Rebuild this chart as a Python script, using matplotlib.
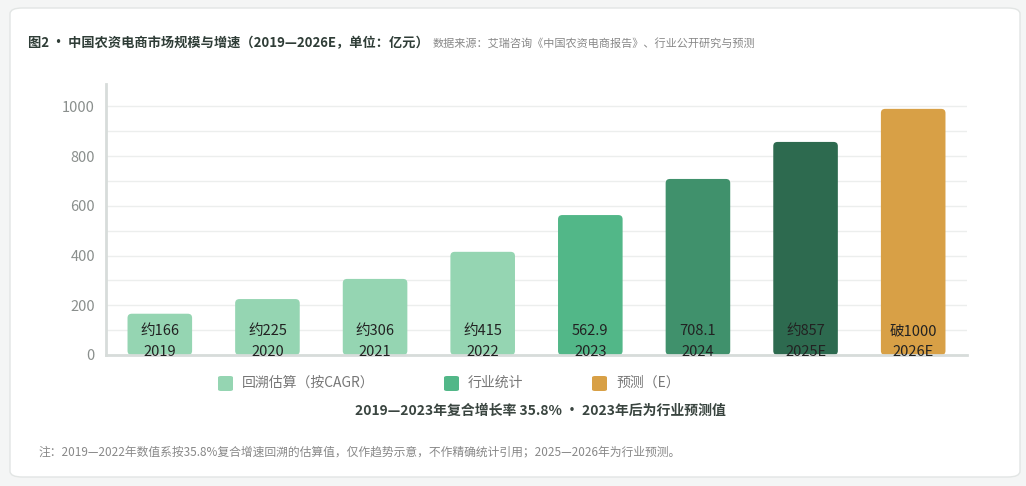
import matplotlib.pyplot as plt
from matplotlib.patches import FancyBboxPatch
import numpy as np

plt.rcParams['font.family'] = ['Noto Sans CJK SC', 'DejaVu Sans']

years = ["2019", "2020", "2021", "2022", "2023", "2024", "2025E", "2026E"]
values = [166, 225, 306, 415, 562.9, 708.1, 857, 990]
value_labels = ["约166", "约225", "约306", "约415", "562.9", "708.1", "约857", "破1000"]
bar_colors = ["#95d5b2", "#95d5b2", "#95d5b2", "#95d5b2", "#52b788", "#40916c", "#2d6a4f", "#d8a046"]
legend_names = ["回溯估算（按CAGR）", "行业统计", "预测（E）"]
legend_colors = ["#95d5b2", "#52b788", "#d8a046"]

title = "图2 • 中国农资电商市场规模与增速（2019—2026E，单位：亿元）"
source = "数据来源：艾瑞咨询《中国农资电商报告》、行业公开研究与预测"
subtitle = "2019—2023年复合增长率 35.8% • 2023年后为行业预测值"
note = "注：2019—2022年数值系按35.8%复合增速回溯的估算值，仅作趋势示意，不作精确统计引用；2025—2026年为行业预测。"

W, H = 1026, 486
fig = plt.figure(figsize=(W / 100, H / 100), dpi=100, facecolor="#f4f5f5")

# card behind everything
card = FancyBboxPatch((10 / W, 9 / H), 1010 / W, 469 / H,
                      boxstyle="round,pad=0,rounding_size=0.012",
                      transform=fig.transFigure, facecolor="white",
                      edgecolor="#e2e5e4", linewidth=1, zorder=-5)
fig.patches.append(card)

ax = fig.add_axes([106 / W, 1 - 355 / H, (967 - 106) / W, (355 - 84) / H])
ax.set_zorder(2)
ax.set_facecolor("none")
x = np.arange(len(years))
bars = ax.bar(x, values, width=0.6, color=bar_colors, zorder=2)

# swap square bars for rounded ones
for b, c in zip(bars, bar_colors):
    b.set_visible(False)
    rb = FancyBboxPatch((b.get_x(), b.get_y()), b.get_width(), b.get_height(),
                        boxstyle="round,pad=0,rounding_size=0.04",
                        mutation_aspect=420, facecolor=c, edgecolor="none", zorder=2)
    ax.add_patch(rb)

for xi, lab, yr in zip(x, value_labels, years):
    ax.text(xi, 95, lab, ha="center", va="center", fontsize=10.5, color="#222222", zorder=3)
    ax.text(xi, 12, yr, ha="center", va="center", fontsize=10.5, color="#222222", zorder=3)

ax.set_xlim(-0.5, len(years) - 0.5)
ax.set_ylim(0, 1090)
ax.set_yticks(range(0, 1001, 200))
ax.set_yticks(range(0, 1001, 100), minor=True)
ax.tick_params(axis="y", which="both", length=0, labelsize=10.5, labelcolor="#8a8f8d", pad=8)
ax.set_xticks([])
ax.grid(axis="y", which="both", color="#eceeed", linewidth=1, zorder=0)
ax.set_axisbelow(True)
for s in ["top", "right"]:
    ax.spines[s].set_visible(False)
ax.spines["left"].set_color("#d7dcda")
ax.spines["left"].set_linewidth(2)
ax.spines["bottom"].set_color("#d7dcda")
ax.spines["bottom"].set_linewidth(2)

# title
t = fig.text(28 / W, 1 - 43 / H, title, fontsize=9.5, fontweight="bold",
             color="#2f3d37", va="center", ha="left")
fig.canvas.draw()
bb = t.get_window_extent()
fig.text(bb.x1 / W + 4 / W, 1 - 43 / H, source, fontsize=8, color="#888888",
         va="center", ha="left")

# legend
leg_x = [218, 444, 592]
for lx, name, c in zip(leg_x, legend_names, legend_colors):
    fig.patches.append(FancyBboxPatch((lx / W, 1 - 391 / H), 15 / W, 15 / H,
                                      boxstyle="round,pad=0,rounding_size=0.003",
                                      transform=fig.transFigure, facecolor=c,
                                      edgecolor="none"))
    fig.text((lx + 24) / W, 1 - 383 / H, name, fontsize=10, color="#777777",
             va="center", ha="left")

fig.text(540 / W, 1 - 411 / H, subtitle, fontsize=10, fontweight="bold",
         color="#3a4540", va="center", ha="center")
fig.text(38 / W, 1 - 452 / H, note, fontsize=8.5, color="#888888",
         va="center", ha="left")

fig.savefig("out.png", dpi=100, facecolor=fig.get_facecolor())
